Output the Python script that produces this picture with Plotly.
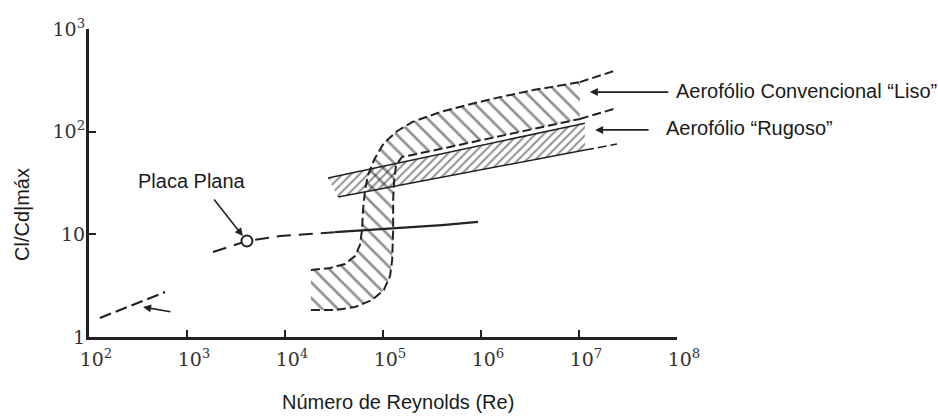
import numpy as np
import plotly.graph_objects as go

# ---------------- data (Re, Cl/Cd max) ----------------
# Smooth conventional airfoil band ("Liso"): upper/left edge and lower/right edge
liso_outer_re = [1.84e4, 2.88e4, 4.09e4, 5.18e4, 5.82e4, 6.11e4, 6.25e4, 6.55e4, 7.03e4,
                 8.09e4, 1.02e5, 1.39e5, 1.98e5, 3.82e5, 7.19e5, 1.56e6, 3.40e6, 1.02e7]
liso_outer_cl = [4.49, 4.70, 5.14, 6.15, 7.87, 11.0, 17.2, 27.0, 37.8,
                 52.9, 77.4, 101, 124, 155, 182, 217, 254, 304]
liso_inner_re = [1.84e4, 3.24e4, 5.18e4, 7.73e4, 1.02e5, 1.18e5, 1.24e5, 1.27e5, 1.27e5,
                 1.30e5, 1.36e5, 1.56e5, 3.82e5, 1.56e6, 1.02e7]
liso_inner_cl = [1.83, 1.83, 1.96, 2.29, 2.87, 3.93, 5.62, 11.0, 21.6,
                 33.8, 47.3, 56.6, 67.7, 90.6, 133]
liso_ext_re = [1.02e7, 2.44e7]
liso_ext_top_cl = [304, 398]
liso_ext_bot_cl = [133, 170]

# Rough airfoil band ("Rugoso")
rug_top_re = [2.75e4, 1.15e7]
rug_top_cl = [35.3, 121]
rug_bot_re = [3.48e4, 1.15e7]
rug_bot_cl = [23.1, 66.2]
rug_ext_re = [1.15e7, 2.44e7]
rug_ext_cl = [66.2, 75.7]

# Flat plate ("Placa Plana")
pp_dash_re = [1.84e3, 4.09e3, 8.89e3, 1.72e4, 3.24e4]
pp_dash_cl = [6.73, 8.61, 9.62, 10.1, 10.5]
pp_solid_re = [3.24e4, 1.49e5, 4.0e5, 9.31e5]
pp_solid_cl = [10.5, 11.5, 12.3, 13.2]
pp_point_re = [4.09e3]
pp_point_cl = [8.61]

# Low-Re segment (lower left)
low_re = [129, 597]
low_cl = [1.53, 2.74]

# Axis ticks
x_tickvals = [1e2, 1e3, 1e4, 1e5, 1e6, 1e7, 1e8]
x_ticktext = ["10<sup>2</sup>", "10<sup>3</sup>", "10<sup>4</sup>", "10<sup>5</sup>",
              "10<sup>6</sup>", "10<sup>7</sup>", "10<sup>8</sup>"]
y_tickvals = [1, 10, 100, 1000]
y_ticktext = ["1", "10", "10<sup>2</sup>", "10<sup>3</sup>"]

# ---------------- layout helpers ----------------
W, H = 938, 417
L, R, T, B = 89, 261, 29, 80
PW, PH = W - L - R, H - T - B


def pxx(xp):
    return (xp - L) / PW


def pxy(yp):
    return (H - B - yp) / PH


SANS = "Liberation Sans, Arial, sans-serif"
SERIF = "DejaVu Serif, Liberation Serif, serif"
INK = "#222222"
TXT = "#1a1a1a"

fig = go.Figure()

# Rugoso fill (dense "/" hatch)
fig.add_trace(go.Scatter(
    x=rug_top_re + rug_bot_re[::-1], y=rug_top_cl + rug_bot_cl[::-1],
    mode="lines", fill="toself", fillcolor="rgba(0,0,0,0)",
    fillpattern=dict(shape="/", fgcolor=INK, bgcolor="rgba(0,0,0,0)", size=6, solidity=0.32),
    line=dict(width=0), hoverinfo="skip"))

# Liso fill ("\" hatch)
fig.add_trace(go.Scatter(
    x=liso_outer_re + liso_inner_re[::-1], y=liso_outer_cl + liso_inner_cl[::-1],
    mode="lines", fill="toself", fillcolor="rgba(0,0,0,0)",
    fillpattern=dict(shape="\\", fgcolor=INK, bgcolor="rgba(0,0,0,0)", size=11, solidity=0.24),
    line=dict(width=0), hoverinfo="skip"))

dash_b = "9px,4px"
# Liso boundaries
for xs, ys in [(liso_outer_re, liso_outer_cl), (liso_inner_re, liso_inner_cl),
               (liso_ext_re, liso_ext_top_cl), (liso_ext_re, liso_ext_bot_cl)]:
    fig.add_trace(go.Scatter(x=xs, y=ys, mode="lines",
                             line=dict(color=INK, width=2, dash=dash_b), hoverinfo="skip"))

# Rugoso boundaries
fig.add_trace(go.Scatter(x=rug_top_re, y=rug_top_cl, mode="lines",
                         line=dict(color=INK, width=1.5), hoverinfo="skip"))
fig.add_trace(go.Scatter(x=rug_bot_re, y=rug_bot_cl, mode="lines",
                         line=dict(color=INK, width=1.5), hoverinfo="skip"))
fig.add_trace(go.Scatter(x=rug_ext_re, y=rug_ext_cl, mode="lines",
                         line=dict(color=INK, width=1.5, dash=dash_b), hoverinfo="skip"))

# Flat plate
fig.add_trace(go.Scatter(x=pp_dash_re, y=pp_dash_cl, mode="lines",
                         line=dict(color=INK, width=2, dash="14px,8px"), hoverinfo="skip"))
fig.add_trace(go.Scatter(x=pp_solid_re, y=pp_solid_cl, mode="lines",
                         line=dict(color=INK, width=2.2), hoverinfo="skip"))
fig.add_trace(go.Scatter(x=pp_point_re, y=pp_point_cl, mode="markers",
                         marker=dict(symbol="circle", size=11, color="white",
                                     line=dict(color=INK, width=2)), hoverinfo="skip"))

# Low Re segment
fig.add_trace(go.Scatter(x=low_re, y=low_cl, mode="lines",
                         line=dict(color=INK, width=2.2, dash="12px,5px"), hoverinfo="skip"))

annotations = []
# arrows
arrow_common = dict(showarrow=True, arrowhead=2, arrowsize=1, arrowwidth=1.6,
                    arrowcolor=INK, text="")
annotations.append(dict(x=np.log10(3.72e3), y=np.log10(9.62), ax=-30, ay=-38, **arrow_common))
annotations.append(dict(x=np.log10(356), y=np.log10(1.96), ax=29, ay=5, **arrow_common))
annotations.append(dict(x=np.log10(1.29e7), y=np.log10(243), ax=80, ay=0, **arrow_common))
annotations.append(dict(x=np.log10(1.46e7), y=np.log10(104), ax=55, ay=0, **arrow_common))

# texts
tfont = dict(family=SANS, size=20, color=TXT)
annotations += [
    dict(xref="paper", yref="paper", x=pxx(192), y=pxy(181), text="Placa Plana",
         showarrow=False, font=tfont, xanchor="center", yanchor="middle"),
    dict(xref="paper", yref="paper", x=pxx(674), y=pxy(91),
         text="Aerofólio Convencional “Liso”", showarrow=False, font=tfont,
         xanchor="left", yanchor="middle"),
    dict(xref="paper", yref="paper", x=pxx(664), y=pxy(128),
         text="Aerofólio “Rugoso”", showarrow=False, font=tfont,
         xanchor="left", yanchor="middle"),
    dict(xref="paper", yref="paper", x=pxx(398), y=pxy(402),
         text="Número de Reynolds (Re)", showarrow=False, font=tfont,
         xanchor="center", yanchor="middle"),
    dict(xref="paper", yref="paper", x=pxx(22), y=pxy(215),
         text="Cl/Cd|máx", showarrow=False, font=tfont, textangle=-90,
         xanchor="center", yanchor="middle"),
]

axis_common = dict(type="log", showline=True, linecolor=INK, linewidth=3,
                   ticks="inside", ticklen=7, tickwidth=2, tickcolor=INK,
                   showgrid=False, zeroline=False,
                   tickfont=dict(family=SERIF, size=19, color="#333"))

fig.update_layout(
    width=W, height=H,
    margin=dict(l=L, r=R, t=T, b=B, pad=0),
    paper_bgcolor="white", plot_bgcolor="white",
    showlegend=False,
    xaxis=dict(range=[2, 8], tickvals=x_tickvals, ticktext=x_ticktext,
               ticklabelstandoff=3, ticklabelshift=7, **axis_common),
    yaxis=dict(range=[0, 3], tickvals=y_tickvals, ticktext=y_ticktext,
               ticklabelstandoff=-3, **axis_common),
    annotations=annotations,
)

fig.write_html("out.html")
